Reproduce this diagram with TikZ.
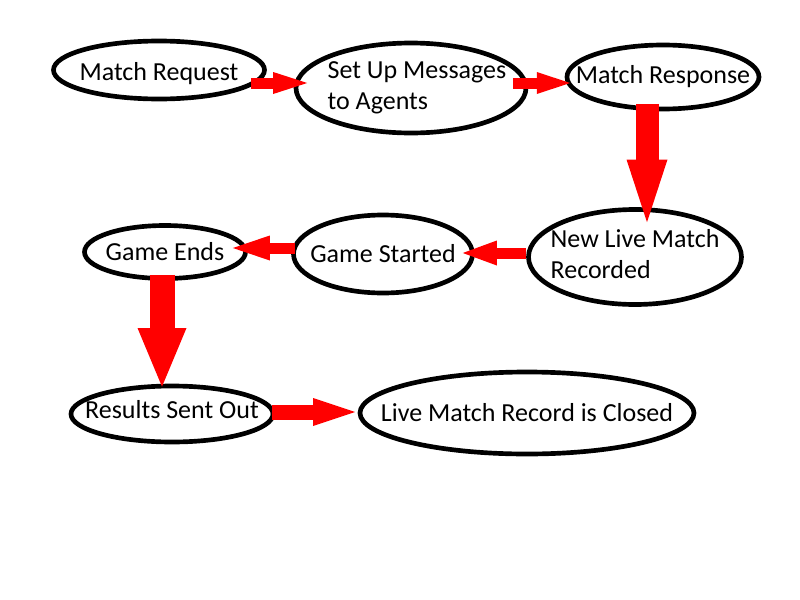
\documentclass[tikz,border=0pt]{standalone}
\usepackage{fontspec}
\setmainfont{Carlito}
\usetikzlibrary{arrows.meta,calc,shapes.geometric}

\newcommand{\stagefont}{\fontsize{19.5}{23.5}\selectfont}

\tikzset{
  stage/.style 2 args={draw, ellipse, line width=3.5pt, inner sep=0pt,
    minimum width=#1*0.75pt, minimum height=#2*0.75pt},
  every label/.style={font=\stagefont, align=left, inner sep=0pt},
  flow/.style n args={3}{draw=red, line width=#1,
    -{Triangle[length=#3, width=#2, line width=0pt]}},
}

\begin{document}
\begin{tikzpicture}[x=0.75pt, y=-0.75pt]
  \useasboundingbox (0,0) rectangle (800,600);

  % top row
  \node [stage={211}{58}, label={[yshift=-2.5pt]center:Match Request}] (req) at (159,70) {};
  \node [stage={230}{90}, label={[xshift=4.5pt]center:Set Up Messages\\to Agents}] (setup) at (411,88) {};
  \node [stage={192}{64}, label={center:Match Response}] (resp) at (663,77) {};

  % middle row
  \node [stage={213}{95}, label={[yshift=2.25pt]center:New Live Match\\Recorded}] (newrec) at (635,257) {};
  \node [stage={179}{78}, label={center:Game Started}] (started) at (383,254) {};
  \node [stage={161}{53}, label={center:Game Ends}] (ends) at (165,252) {};

  % bottom row
  \node [stage={202}{56}, label={[yshift=3pt]center:Results Sent Out}] (results) at (172,414) {};
  \node [stage={334}{82}, label={center:Live Match Record is Closed}] (closed) at (527,413) {};

  % red arrows
  \draw [flow={8.25pt}{16.5pt}{25.5pt}] ($(req.east)+(-16,13)$) -- ($(setup.west)+(13.5,-5)$);
  \draw [flow={8.25pt}{16.5pt}{25pt}] ($(setup.east)+(-15.5,-5)$) -- ($(resp.west)+(5.5,6)$);
  \draw [flow={17.25pt}{30.75pt}{47pt}] ($(resp.south)+(-16,-7.5)$) -- ($(newrec.north)+(12,15)$);
  \draw [flow={8.25pt}{18.75pt}{25.5pt}] ($(newrec.west)+(0,-4)$) -- ($(started.east)+(-12,-1)$);
  \draw [flow={8.25pt}{18.75pt}{27.75pt}] ($(started.west)+(4,-6)$) -- ($(ends.east)+(-15,-4)$);
  \draw [flow={18.75pt}{36.75pt}{44pt}] ($(ends.south)+(-3,-6)$) -- ($(results.north)+(-10,3)$);
  \draw [flow={11.25pt}{21pt}{31.5pt}] ($(results.east)+(-3.5,-2)$) -- ($(closed.west)+(-2.5,-1)$);
\end{tikzpicture}
\end{document}
